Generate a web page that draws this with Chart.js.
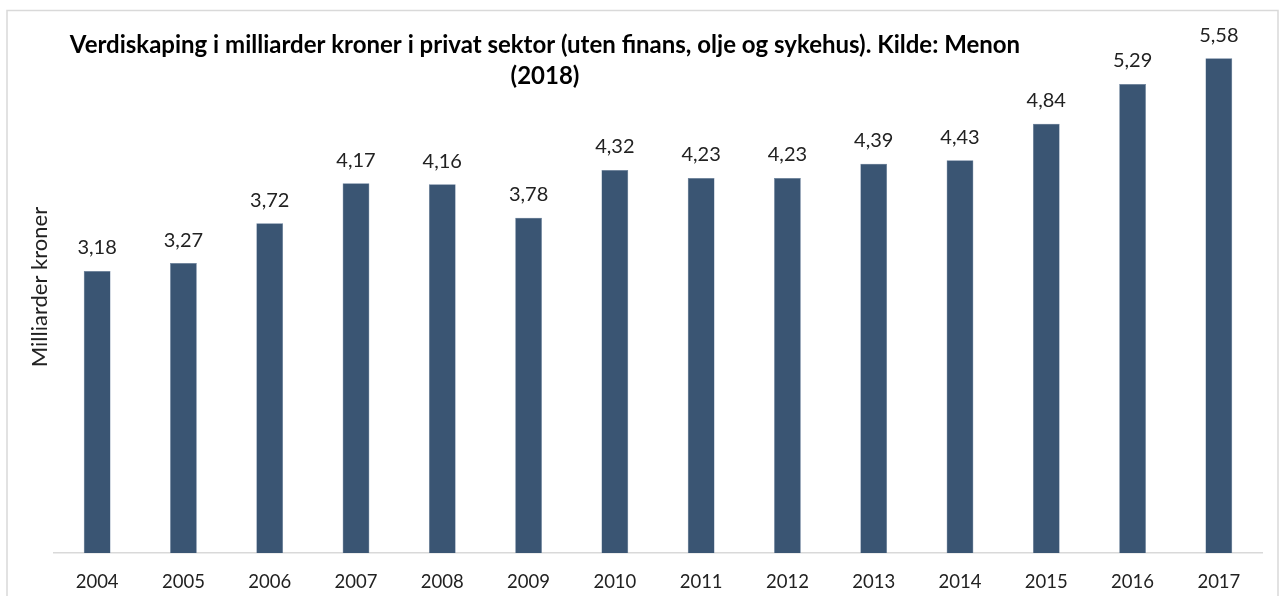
<!DOCTYPE html>
<html>
<head>
<meta charset="utf-8">
<script src="https://cdn.jsdelivr.net/npm/chart.js@4/dist/chart.umd.min.js"></script>
<style>
  html, body { margin: 0; padding: 0; background: #fff; }
  #wrap { width: 1285px; height: 596px; position: relative; }
</style>
</head>
<body>
<div id="wrap"><canvas id="chart" width="1285" height="596"></canvas></div>
<script>
const years = ['2004', '2005', '2006', '2007', '2008', '2009', '2010', '2011', '2012', '2013', '2014', '2015', '2016', '2017'];
const values = [3.18, 3.27, 3.72, 4.17, 4.16, 3.78, 4.32, 4.23, 4.23, 4.39, 4.43, 4.84, 5.29, 5.58];
const titleLines = ['Verdiskaping i milliarder kroner i privat sektor (uten finans, olje og sykehus). Kilde: Menon', '(2018)'];
const yTitle = 'Milliarder kroner';

const FONT = 'Lato, "Open Sans", sans-serif';

// grey frame around the chart (open at the bottom like the original crop)
const framePlugin = {
  id: 'frame',
  beforeDraw(chart) {
    const c = chart.ctx;
    c.save();
    c.strokeStyle = '#d9d9d9';
    c.lineWidth = 1.5;
    c.beginPath();
    c.moveTo(7, 600);
    c.lineTo(7, 10.5);
    c.lineTo(1278, 10.5);
    c.lineTo(1278, 600);
    c.stroke();
    c.restore();
  }
};

const labelPlugin = {
  id: 'valueLabels',
  afterDatasetsDraw(chart) {
    const c = chart.ctx;
    const meta = chart.getDatasetMeta(0);
    c.save();
    c.font = '20px ' + FONT;
    c.fillStyle = '#222';
    c.textAlign = 'center';
    c.textBaseline = 'middle';
    meta.data.forEach((bar, i) => {
      c.fillText(values[i].toFixed(2).replace('.', ','), bar.x, bar.y - 23);
    });
    // title
    c.font = 'bold 24px ' + FONT;
    c.fillStyle = '#000';
    c.fillText(titleLines[0], 545, 45);
    c.fillText(titleLines[1], 545, 76);
    c.restore();
  }
};

new Chart(document.getElementById('chart'), {
  type: 'bar',
  data: {
    labels: years,
    datasets: [{
      data: values,
      backgroundColor: '#3a5573',
      borderColor: '#5b7595',
      borderWidth: 0.5,
      barPercentage: 0.31,
      categoryPercentage: 1,
    }],
  },
  options: {
    responsive: false,
    animation: false,
    layout: { padding: { top: 21, right: 23, left: 0, bottom: 0 } },
    plugins: {
      legend: { display: false },
      tooltip: { enabled: false },
    },
    scales: {
      y: {
        min: 0,
        max: 6,
        ticks: { display: false },
        grid: { display: false },
        border: { display: false },
        title: {
          display: true,
          text: yTitle,
          color: '#222',
          font: { family: FONT, size: 22 },
          padding: { top: 27, bottom: 0 },
        },
        afterFit(scale) { scale.width = 54; },
      },
      x: {
        grid: { display: false },
        border: { display: true, color: '#d9d9d9', width: 1.5 },
        ticks: { color: '#222', font: { family: FONT, size: 18.5 }, padding: 10, maxRotation: 0 },
        afterFit(scale) { scale.height = 43; },
      },
    },
  },
  plugins: [framePlugin, labelPlugin],
});
</script>
</body>
</html>
